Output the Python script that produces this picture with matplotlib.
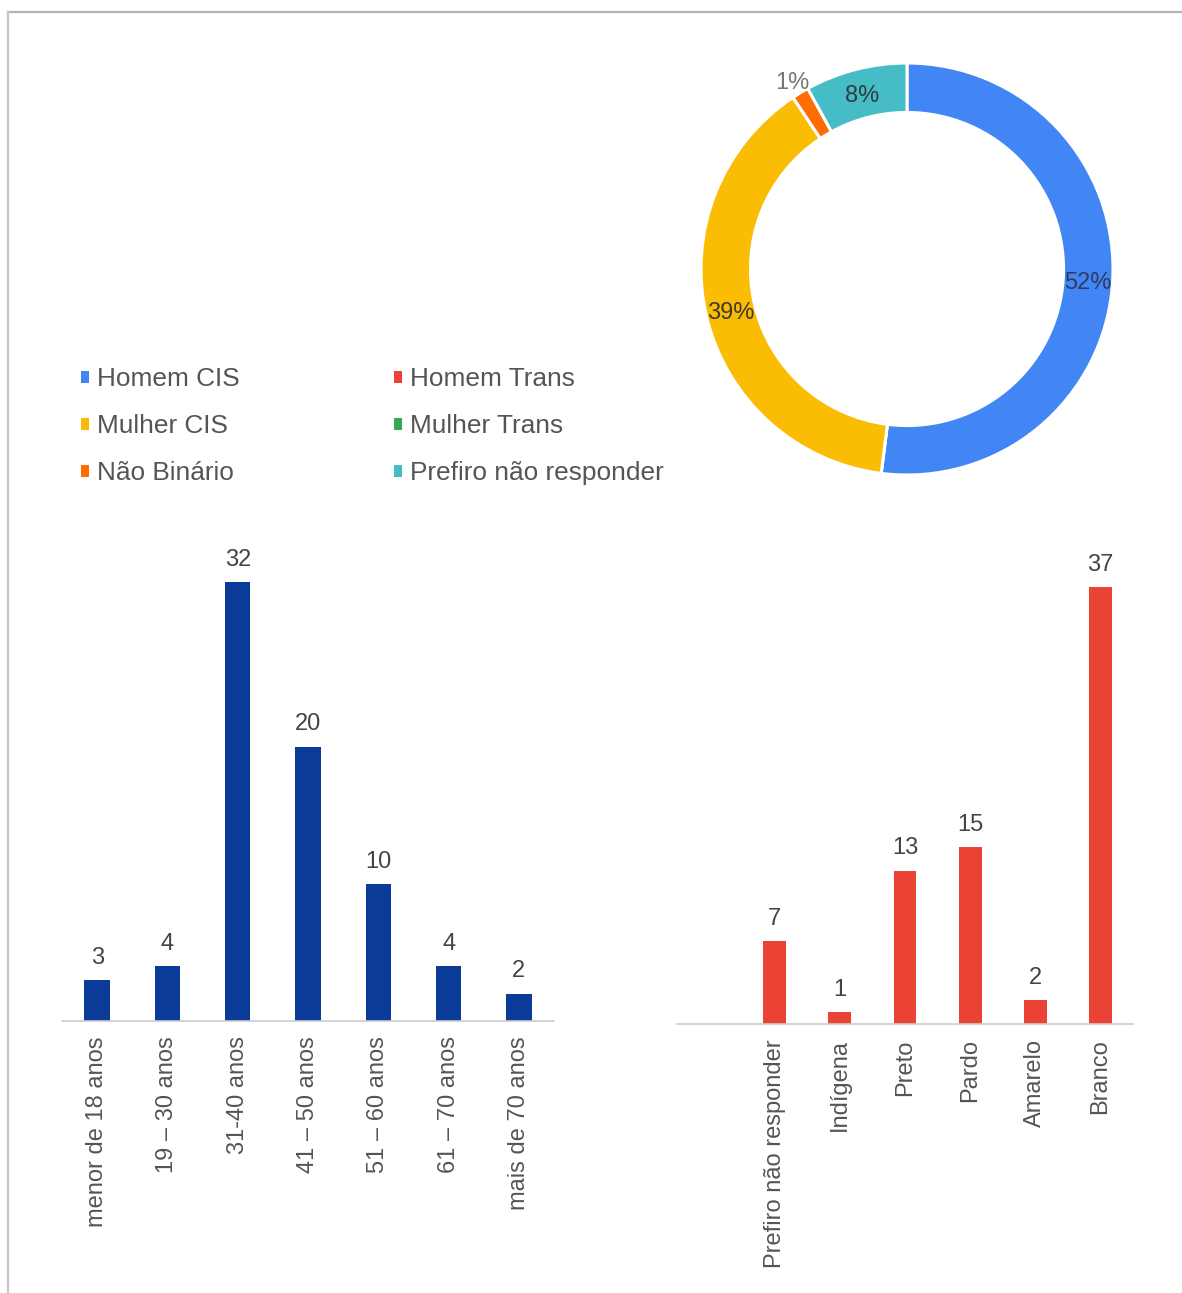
import numpy as np
import matplotlib
matplotlib.use("Agg")
import matplotlib.pyplot as plt
from matplotlib.patches import Patch
from matplotlib.lines import Line2D

plt.rcParams["font.family"] = ["Liberation Sans", "DejaVu Sans"]

# gender (counts of respondents)
gender_labels = ["Homem CIS", "Homem Trans", "Mulher CIS", "Mulher Trans",
                 "Não Binário", "Prefiro não responder"]
gender_counts = [39, 0, 29, 0, 1, 6]
gender_colors = ["#4285F4", "#EA4335", "#FBBC04", "#34A853", "#FF6D01", "#46BDC6"]

# age groups
age_labels = ["menor de 18 anos", "19 – 30 anos", "31-40 anos", "41 – 50 anos",
              "51 – 60 anos", "61 – 70 anos", "mais de 70 anos"]
age_counts = [3, 4, 32, 20, 10, 4, 2]

# race / colour
race_labels = ["Prefiro não responder", "Indígena", "Preto", "Pardo",
               "Amarelo", "Branco"]
race_counts = [7, 1, 13, 15, 2, 37]

W, H = 1182, 1293
fig = plt.figure(figsize=(W / 100, H / 100), dpi=100)


def px_axes(left, top, right, bottom):
    return fig.add_axes([left / W, 1 - bottom / H, (right - left) / W, (bottom - top) / H])


# outer frame (top and left edges only)
fig.add_artist(Line2D([8 / W, 1], [1 - 12 / H, 1 - 12 / H], color="#b4b4b4", lw=1.6,
                      transform=fig.transFigure))
fig.add_artist(Line2D([8 / W, 8 / W], [0, 1 - 12 / H], color="#c4c4c4", lw=1.6,
                      transform=fig.transFigure))

# donut
ax_pie = px_axes(701, 63, 1113, 475)
wedges, _ = ax_pie.pie(gender_counts, colors=gender_colors, startangle=90,
                       counterclock=False, radius=1.0,
                       wedgeprops=dict(width=0.24, edgecolor="white", linewidth=2.2))
ax_pie.set_xlim(-1, 1)
ax_pie.set_ylim(-1, 1)
ax_pie.set_aspect("equal")
ax_pie.axis("off")

total = sum(gender_counts)
label_colors = ["#2f3d5c", "#333333", "#3d3a2e", "#333333", "#777777", "#2e3e40"]
for w, n, col in zip(wedges, gender_counts, label_colors):
    if n == 0:
        continue
    pct = round(n / total * 100)
    mid = np.deg2rad((w.theta1 + w.theta2) / 2)
    r = 0.88 if pct >= 5 else 1.07
    ax_pie.text(r * np.cos(mid), r * np.sin(mid), f"{pct}%", ha="center",
                va="center_baseline", fontsize=17, color=col, clip_on=False)

# legend for the donut
handles = [Patch(facecolor=c, edgecolor="none") for c in gender_colors]
order = [0, 2, 4, 1, 3, 5]
fig.legend([handles[i] for i in order], [gender_labels[i] for i in order],
           loc="upper left", bbox_to_anchor=(81 / W, 1 - 367 / H), ncol=2,
           frameon=False, fontsize=18.9, labelcolor="#555555",
           handlelength=0.32, handleheight=0.32, handletextpad=0.3,
           labelspacing=0.88, columnspacing=5.85, borderpad=0, borderaxespad=0)


def bar_panel(ax, labels, values, color, xmin, ymax, width):
    x = np.arange(len(values))
    bars = ax.bar(x, values, width=width, color=color, zorder=2)
    ax.bar_label(bars, padding=8, fontsize=17, color="#444444")
    ax.set_xlim(xmin, len(values) - 0.5)
    ax.set_ylim(0, ymax)
    ax.set_xticks(x)
    ax.set_xticklabels(labels, rotation=90, fontsize=17, color="#555555")
    ax.tick_params(axis="x", length=0, pad=11)
    ax.set_yticks([])
    for s in ["top", "right", "left"]:
        ax.spines[s].set_visible(False)
    ax.spines["bottom"].set_color("#cccccc")
    ax.spines["bottom"].set_linewidth(1.2)


ax_age = px_axes(62, 540, 554, 1021)
bar_panel(ax_age, age_labels, age_counts, "#0b3b98", -0.5, 481 / 13.72, 0.36)

ax_race = px_axes(677, 540, 1133, 1024)
bar_panel(ax_race, race_labels, race_counts, "#EA4335", -1.5, 484 / 11.8, 0.35)

fig.savefig("out.png", dpi=100, facecolor="white")
